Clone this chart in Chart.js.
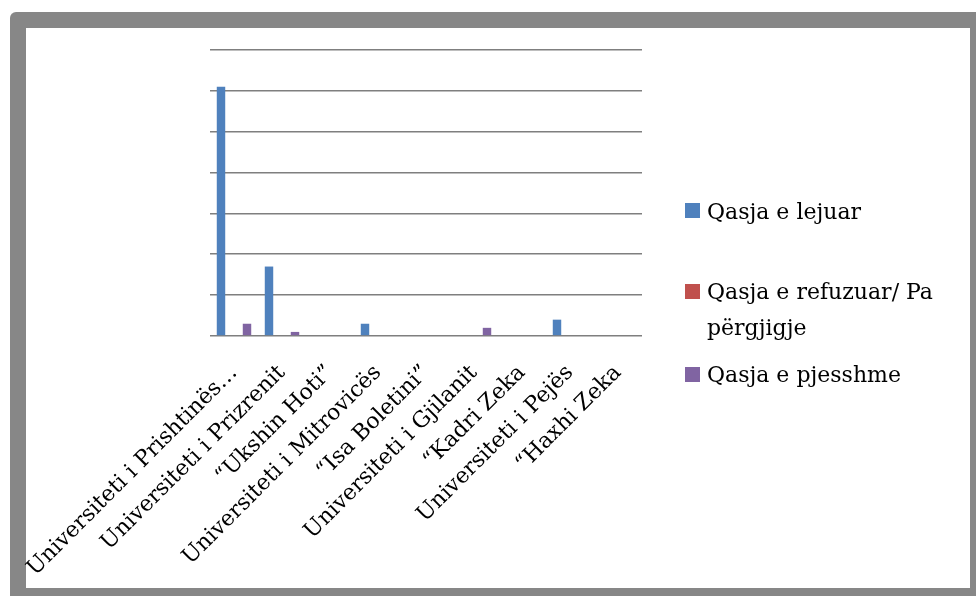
<!DOCTYPE html>
<html>
<head>
<meta charset="utf-8">
<script src="https://cdn.jsdelivr.net/npm/chart.js@4.4.1/dist/chart.umd.min.js"></script>
<style>
  body { margin: 0; background: #fff; width: 976px; height: 596px; overflow: hidden; position: relative; }
  #frame { position: absolute; left: 10px; top: 12px; right: 0; bottom: 0; background: #878787; border-top-left-radius: 6px; }
  #inner { position: absolute; left: 26px; top: 28px; width: 944px; height: 560px; background: #fff; }
  #myChart { position: absolute; left: 0; top: 0; }
  #legend { position: absolute; left: 0; top: 0; font-family: "DejaVu Serif", serif; font-size: 22px; color: #000; }
  .item { position: absolute; left: 707px; line-height: 36px; white-space: nowrap; }
  .box { position: absolute; left: -22px; width: 15px; height: 15px; }
</style>
</head>
<body>
<div id="frame"></div>
<div id="inner"></div>
<canvas id="myChart" width="976" height="596"></canvas>
<div id="legend"></div>
<script>
var categories = ['Universiteti i Prishtinës…', 'Universiteti i Prizrenit', '“Ukshin Hoti”', 'Universiteti i Mitrovicës', '“Isa Boletini”', 'Universiteti i Gjilanit', '“Kadri Zeka', 'Universiteti i Pejës', '“Haxhi Zeka'];
var seriesNames = ['Qasja e lejuar', 'Qasja e refuzuar/ Pa përgjigje', 'Qasja e pjesshme'];
var lejuar = [61, 17, 0, 3, 0, 0, 0, 4, 0];
var refuzuar = [0, 0, 0, 0, 0, 0, 0, 0, 0];
var pjesshme = [3, 1, 0, 0, 0, 2, 0, 0, 0];
var yTicks = [0, 10, 20, 30, 40, 50, 60, 70];

var colors = ['#4F81BD', '#C0504D', '#8064A2'];
var legendLines = [['Qasja e lejuar'], ['Qasja e refuzuar/ Pa', 'përgjigje'], ['Qasja e pjesshme']];
var legendTops = [193.7, 274.4, 357.1];

var ctx = document.getElementById('myChart').getContext('2d');
var chart = new Chart(ctx, {
    type: 'bar',
    data: {
        labels: categories,
        datasets: [{
            label: seriesNames[0],
            backgroundColor: colors[0],
            data: lejuar
        }, {
            label: seriesNames[1],
            backgroundColor: colors[1],
            data: refuzuar
        }, {
            label: seriesNames[2],
            backgroundColor: colors[2],
            data: pjesshme
        }]
    },
    options: {
        responsive: false,
        animation: false,
        categoryPercentage: 0.8125,
        barPercentage: 0.65,
        layout: {
            padding: { left: 210, top: 50, right: 334, bottom: 0 }
        },
        plugins: {
            legend: { display: false },
            tooltip: { enabled: false }
        },
        scales: {
            x: {
                grid: { display: false },
                border: { display: false },
                ticks: {
                    autoSkip: false,
                    maxRotation: 45,
                    minRotation: 45,
                    color: '#000',
                    padding: 16,
                    font: { family: 'DejaVu Serif', size: 22 }
                },
                afterFit: function (scale) { scale.height = 260; }
            },
            y: {
                min: yTicks[0],
                max: yTicks[yTicks.length - 1],
                ticks: { display: false, stepSize: yTicks[1] - yTicks[0] },
                grid: { color: '#7f7f7f', lineWidth: 1.6, drawTicks: false },
                border: { display: false },
                afterFit: function (scale) { scale.width = 0; }
            }
        }
    }
});

// legend on the right, built from the series
var legend = document.getElementById('legend');
legendLines.forEach(function (lines, i) {
    var item = document.createElement('div');
    item.className = 'item';
    item.style.top = legendTops[i] + 'px';
    var box = document.createElement('span');
    box.className = 'box';
    box.style.background = colors[i];
    box.style.top = '9.5px';
    item.appendChild(box);
    lines.forEach(function (line, j) {
        if (j > 0) item.appendChild(document.createElement('br'));
        item.appendChild(document.createTextNode(line));
    });
    legend.appendChild(item);
});
</script>
</body>
</html>
